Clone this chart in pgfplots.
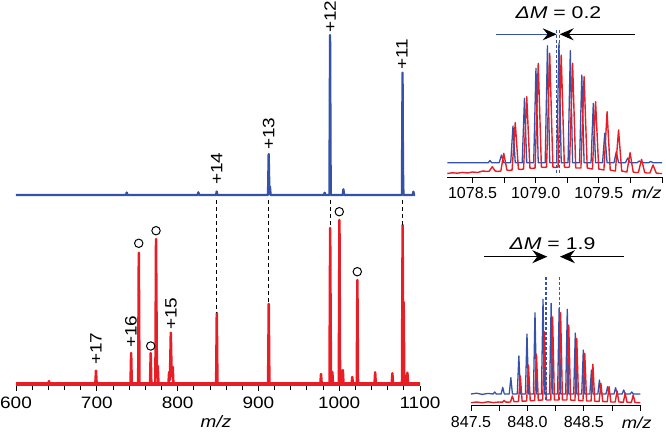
\documentclass[border=0pt]{standalone}
\usepackage{fontspec}
\setmainfont{Liberation Sans}
\newfontfamily\wsf{Liberation Sans}[FakeStretch=1.15]
\newfontfamily\wsfb{Liberation Sans}[FakeStretch=1.25]
\usepackage{pgfplots}
\pgfplotsset{compat=1.18}
\usetikzlibrary{arrows.meta}
\definecolor{sblue}{RGB}{52,82,168}
\definecolor{sred}{RGB}{232,30,38}
\begin{document}
\begin{tikzpicture}
\useasboundingbox (0,0) rectangle (666pt,431pt);
% ---------------- main panel ----------------
\begin{axis}[at={(16pt,45pt)}, anchor=south west, scale only axis,
  width=404pt, height=386pt, xmin=600, xmax=1100, ymin=0, ymax=386,
  clip=false, hide y axis, axis x line=bottom, x axis line style={draw=none},
  xtick={600,700,...,1100}, xticklabels={600,700,800,900,1000,1100},
  minor x tick num=4, tick align=outside, major tick length=4.7pt, minor tick length=4pt,
  tick style={black, line width=0.8pt},
  xticklabel style={font=\wsf\fontsize{16.5}{18}\selectfont, inner sep=0pt, yshift=-6pt}]
% blue spectrum
\addplot[sblue, line width=2.3pt, line join=round] coordinates {
(600,191) (736.2,191) (737,193.5) (737.8,191) (824.9,191) (825.7,193.7) (826.5,191)
(847.6,191) (848.4,194.5) (849.2,191) (911.9,191) (912.7,232) (913.5,198) (914.3,199.3) (915.1,191)
(981.2,191) (982,193.3) (982.8,191) (987.9,191) (988.7,351) (989.5,191)
(1004.4,191) (1005.2,196.7) (1006,191) (1077.6,191) (1078.4,313.3) (1078.9,219.3) (1079.5,191)
(1091,191) (1091.8,194.3) (1092.6,191) (1094,191)};
% red spectrum
\addplot[sred, line width=3.8pt] coordinates {(600,2.2) (1100,2.2)};
\addplot[sred, line width=2.5pt, line join=round] coordinates {
(600,2.2) (640,2.2) (640.8,5) (641.6,2.2) (698.2,2.2) (699,15.3) (699.8,2.2)
(741.7,2.2) (742.5,33) (743.3,2.2) (751.2,2.2) (752,133.3) (752.8,2.2)
(765.9,2.2) (766.7,33) (767.5,2.2) (772.5,2.2) (773.3,147) (774.4,10) (775.5,20) (776.3,2.2)
(788.7,2.2) (789.5,14) (790.5,6) (791.6,53.3) (792.6,10) (794,19) (794.8,2.2)
(847.7,2.2) (848.5,73) (849.3,2.2) (912,2.2) (912.8,82) (913.6,2.2)
(976.7,2.2) (977.5,12) (978.3,2.2) (988,2.2) (988.8,158) (989.8,5) (991.5,14) (992.3,2.2)
(999.5,2.2) (1000.3,166) (1001.1,2.2) (1003.7,2.2) (1004.5,16) (1005.3,2.2)
(1015.4,2.2) (1016.2,9) (1017,2.2) (1021.7,2.2) (1022.5,106) (1023.3,2.2)
(1043.7,2.2) (1044.5,13.7) (1045.3,2.2) (1065,2.2) (1065.8,12.7) (1066.6,2.2)
(1077.7,2.2) (1078.5,161) (1079.2,10) (1079.8,84) (1080.6,2.2)
(1083.6,2.2) (1084.4,13.3) (1085.2,2.2) (1100,2.2)};
% dashed guides
\addplot[black, line width=1pt, dash pattern=on 4pt off 3pt] coordinates {(848.4,186) (848.4,73)};
\addplot[black, line width=1pt, dash pattern=on 4pt off 3pt] coordinates {(912.7,186) (912.7,82)};
\addplot[black, line width=1pt, dash pattern=on 4pt off 3pt] coordinates {(988.7,186) (988.7,158)};
\addplot[black, line width=1pt, dash pattern=on 4pt off 3pt] coordinates {(1078.4,186) (1078.4,161)};
% circles
\addplot[only marks, mark=o, mark size=4.2pt, black, mark options={line width=1pt}] coordinates {
(751.9,142.7) (773.3,155.3) (766.7,40) (1000.1,174.3) (1022.4,114.3)};
% charge labels
\begin{scope}[every node/.style={rotate=90, anchor=west, inner sep=0pt, font=\wsf\fontsize{16.5}{18}\selectfont}]
\node at (axis cs:988.7,353) {+12};
\node at (axis cs:1077.6,316) {+11};
\node at (axis cs:912.7,236) {+13};
\node at (axis cs:848.4,201) {+14};
\node at (axis cs:699,21) {+17};
\node at (axis cs:742.3,38) {+16};
\node at (axis cs:791.8,56) {+15};
\end{scope}
\node[anchor=north, inner sep=0pt, font=\wsf\itshape\fontsize{16.5}{18}\selectfont] at (axis cs:847.5,-29.5) {m/z};
\end{axis}
% ---------------- top inset ----------------
\begin{axis}[at={(447.3pt,254pt)}, anchor=south west, scale only axis,
  width=214.7pt, height=177pt, xmin=1078.3, xmax=1080, ymin=0, ymax=177,
  clip=false, hide y axis, axis x line=bottom, x axis line style={-, line width=0.8pt},
  xtick={1078.5,1079,1079.5}, xticklabels={1078.5,1079.0,1079.5},
  minor xtick={1078.75,1079.25,1079.75,1080},
  tick align=outside, major tick length=6pt, minor tick length=6pt,
  tick style={black, line width=0.8pt},
  xticklabel style={font=\fontsize{16}{18}\selectfont, inner sep=0pt, yshift=-4pt}]
\addplot[sblue, line width=1.3pt, line join=round] coordinates {
(1078.3,14.3) (1078.625,14.3) (1078.638,16.5) (1078.651,14.3)
(1078.711,14.3) (1078.729,22) (1078.747,14.3)
(1078.802,14.3) (1078.820,51) (1078.838,14.3)
(1078.893,14.3) (1078.911,78.7) (1078.929,14.3)
(1078.984,14.3) (1079.002,108.7) (1079.020,14.3)
(1079.075,14.3) (1079.093,131.3) (1079.111,14.3)
(1079.166,14.3) (1079.184,134) (1079.202,14.3)
(1079.256,14.3) (1079.274,126.3) (1079.292,14.3)
(1079.347,14.3) (1079.365,102) (1079.383,14.3)
(1079.438,14.3) (1079.456,73.7) (1079.474,14.3)
(1079.529,14.3) (1079.547,43.7) (1079.565,14.3)
(1079.620,14.3) (1079.638,25.3) (1079.656,14.3)
(1079.711,14.3) (1079.729,19) (1079.747,14.3)
(1079.802,14.3) (1079.820,16) (1079.838,14.3)
(1079.893,14.3) (1079.911,15.5) (1079.929,14.3) (1080,14.3)};
\addplot[sred, line width=1.4pt, line join=round] coordinates {
(1078.30,3.5) (1078.34,4.2) (1078.38,3.8) (1078.42,4.6) (1078.46,4.0) (1078.50,5.0) (1078.54,4.5) (1078.58,6.0) (1078.62,5.5)
(1078.633,6) (1078.656,10.3) (1078.679,6) (1078.70,5.5)
(1078.724,6) (1078.747,23.7) (1078.772,7) (1078.79,6.5)
(1078.813,7) (1078.838,54.3) (1078.863,8) (1078.88,7.5)
(1078.904,8) (1078.929,80.3) (1078.954,9) (1078.97,8.5)
(1078.995,9) (1079.020,113.7) (1079.045,10) (1079.065,9.5)
(1079.086,10) (1079.111,123.7) (1079.136,10) (1079.156,9.5)
(1079.177,10) (1079.202,122) (1079.227,10) (1079.247,9.5)
(1079.267,10) (1079.292,113.7) (1079.317,9) (1079.338,9)
(1079.358,9) (1079.383,100.3) (1079.408,9) (1079.428,8.5)
(1079.449,8) (1079.474,75.3) (1079.499,8) (1079.52,7.5)
(1079.540,7) (1079.565,65.3) (1079.590,7) (1079.61,6.5)
(1079.631,6) (1079.656,47) (1079.681,6) (1079.70,5.5)
(1079.722,5) (1079.747,24.3) (1079.772,5) (1079.79,4.5)
(1079.813,4.5) (1079.838,17.7) (1079.863,4.5) (1079.88,4)
(1079.904,4) (1079.929,12) (1079.954,4) (1079.98,3.5) (1080.0,3.5)};
\addplot[sblue, line width=1.1pt, dash pattern=on 3pt off 2pt] coordinates {(1079.166,147) (1079.166,2)};
\addplot[sred, line width=1.1pt, dash pattern=on 3pt off 2pt] coordinates {(1079.187,147) (1079.187,2)};
\draw[sblue, line width=1pt, -{Stealth[length=14pt,width=12pt,inset=5pt,color=black]}] (axis cs:1078.686,142.7) -- (axis cs:1079.166,142.7);
\draw[black, line width=1pt, -{Stealth[length=14pt,width=12pt,inset=5pt]}] (axis cs:1079.786,142.7) -- (axis cs:1079.19,142.7);
\node[font=\wsfb\fontsize{17}{20}\selectfont] at (axis cs:1079.18,164) {\textit{ΔM} = 0.2};
\node[anchor=north, inner sep=0pt, font=\wsf\itshape\fontsize{16}{18}\selectfont] at (axis cs:1079.879,-10) {m/z};
\end{axis}
% ---------------- bottom inset ----------------
\begin{axis}[at={(471pt,26pt)}, anchor=south west, scale only axis,
  width=169.3pt, height=180pt, xmin=847.5, xmax=849, ymin=0, ymax=180,
  clip=false, hide y axis, axis x line=bottom, x axis line style={-, line width=0.8pt},
  xtick={847.5,848,848.5}, xticklabels={847.5,848.0,848.5},
  minor xtick={847.75,848.25,848.75,849},
  tick align=outside, major tick length=6pt, minor tick length=6pt,
  tick style={black, line width=0.8pt},
  xticklabel style={font=\fontsize{16}{18}\selectfont, inner sep=0pt, yshift=-5pt}]
\addplot[sblue, line width=1.3pt, line join=round] coordinates {
(847.5,11) (847.55,11.8) (847.6,10.6) (847.65,11.6) (847.696,11) (847.710,13) (847.724,11)
(847.767,11) (847.781,17.7) (847.795,11) (847.839,11) (847.853,27.3) (847.867,11)
(847.910,11) (847.924,49) (847.938,11) (847.982,11) (847.996,71) (848.010,11)
(848.053,11) (848.067,92.3) (848.081,11) (848.124,11) (848.138,105.7) (848.152,11)
(848.196,11) (848.210,101.7) (848.224,11) (848.267,11) (848.281,97) (848.295,11)
(848.339,11) (848.353,95.7) (848.367,11) (848.410,11) (848.424,72) (848.438,11)
(848.481,11) (848.495,55) (848.509,11) (848.553,11) (848.567,35) (848.581,11)
(848.624,11) (848.638,25) (848.652,11) (848.696,11) (848.710,18.3) (848.724,11)
(848.767,11) (848.781,17.3) (848.795,11) (848.839,11) (848.853,15) (848.867,11)
(848.910,11) (848.924,13) (848.938,11) (849,11)};
\addplot[sred, line width=1.4pt, line join=round] coordinates {
(847.5,2.3) (847.55,3) (847.6,2.2) (847.65,3.2) (847.7,2.4) (847.75,3)
(847.778,2.8) (847.794,4.5) (847.810,2.8) (847.850,3) (847.866,9) (847.882,3.2)
(847.921,3.5) (847.937,29) (847.953,3.8) (847.993,4) (848.009,40) (848.025,4.2)
(848.064,4.5) (848.080,51) (848.096,4.8) (848.135,5) (848.151,73.3) (848.167,5)
(848.207,5) (848.223,88) (848.239,5) (848.278,5) (848.294,92.3) (848.310,5)
(848.350,5) (848.366,80) (848.382,5) (848.421,4.5) (848.437,66.7) (848.453,4.5)
(848.492,4.2) (848.508,51.7) (848.524,4) (848.564,4) (848.580,40.7) (848.596,3.8)
(848.635,3.5) (848.651,21.7) (848.667,3.5) (848.707,3.2) (848.723,18.3) (848.739,3)
(848.778,3) (848.794,14) (848.810,3) (848.850,2.8) (848.866,12) (848.882,2.8)
(848.921,2.6) (848.937,10) (848.953,2.5) (849,2.3)};
\addplot[sblue, line width=1.1pt, dash pattern=on 3pt off 2pt] coordinates {(848.164,128) (848.164,3)};
\addplot[sred, line width=1.1pt, dash pattern=on 3pt off 2pt] coordinates {(848.288,128) (848.288,3)};
\draw[black, line width=1pt, -{Stealth[length=15pt,width=13pt,inset=5pt]}] (axis cs:847.615,148.3) -- (axis cs:848.176,148.3);
\draw[black, line width=1pt, -{Stealth[length=15pt,width=13pt,inset=5pt]}] (axis cs:848.855,148.3) -- (axis cs:848.288,148.3);
\node[font=\wsfb\fontsize{17}{20}\selectfont] at (axis cs:848.222,161.7) {\textit{ΔM} = 1.9};
\node[anchor=north, inner sep=0pt, font=\wsf\itshape\fontsize{16}{18}\selectfont] at (axis cs:848.968,-11.7) {m/z};
\end{axis}
\end{tikzpicture}
\end{document}
